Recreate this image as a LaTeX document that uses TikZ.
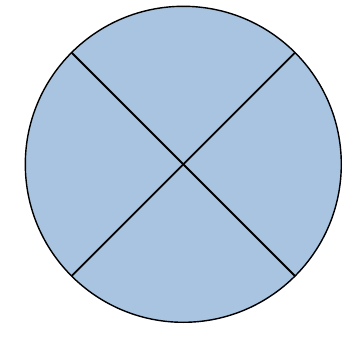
\documentclass[tikz,border=0pt]{standalone}
\definecolor{discblue}{RGB}{168,196,224}
\tikzset{
  disc/.style={circle, draw=black, line width=1.4pt, fill=discblue, minimum size=316pt, inner sep=0pt, outer sep=0pt},
  diag/.style={draw=black, line width=1.8pt}
}
\begin{document}
\begin{tikzpicture}[x=1pt,y=-1pt]
\useasboundingbox (0,0) rectangle (346,337);
\node[disc] (c) at (183.3,164.3) {};
\draw[diag] (c.135) -- (c.-45);
\draw[diag] (c.45) -- (c.-135);
\end{tikzpicture}
\end{document}
